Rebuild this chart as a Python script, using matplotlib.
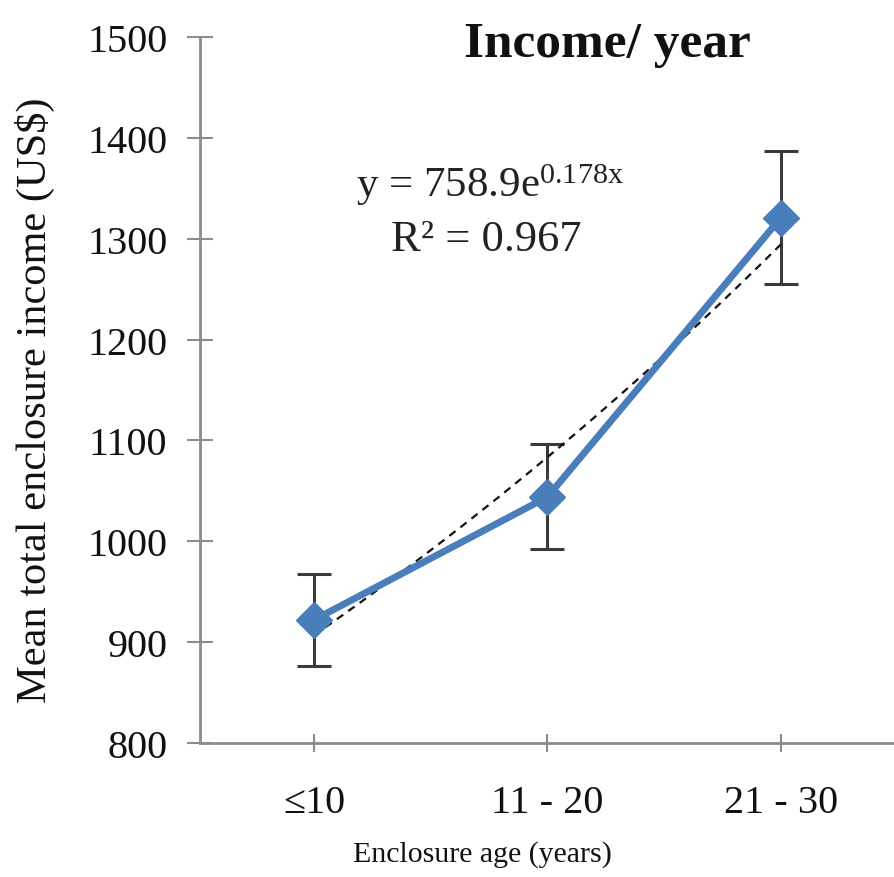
import numpy as np
import matplotlib
matplotlib.use("Agg")
import matplotlib.pyplot as plt

# Data
categories = ["\u226410", "11 - 20", "21 - 30"]
mean_income = [922, 1044, 1321]
error = [46, 52, 66]
fit_a = 758.9
fit_b = 0.178
r_squared = 0.967
y_ticks = [800, 900, 1000, 1100, 1200, 1300, 1400, 1500]

plt.rcParams["font.family"] = ["Liberation Serif", "DejaVu Serif"]
plt.rcParams["mathtext.fontset"] = "custom"
plt.rcParams["mathtext.rm"] = "Liberation Serif"
plt.rcParams["mathtext.it"] = "Liberation Serif:italic"

W, H = 894, 878
fig = plt.figure(figsize=(W / 100, H / 100), dpi=100)
fig.patch.set_facecolor("white")

def px(x0, y0, x1, y1):
    return [x0 / W, 1 - y1 / H, (x1 - x0) / W, (y1 - y0) / H]

ax = fig.add_axes(px(200, 38, 894, 744))
x = np.arange(1, len(categories) + 1)

# Exponential trend line
xt = np.linspace(1, 3, 200)
ax.plot(xt, fit_a * np.exp(fit_b * xt), color="#111111", lw=1.6,
        dashes=(3.5, 2.8), zorder=3)

# Error bars
ax.errorbar(x, mean_income, yerr=error, fmt="none", ecolor="#3a3a3a",
            elinewidth=2.2, capsize=12, capthick=2.2, zorder=2)

# Mean line with diamond markers
ax.plot(x, mean_income, color="#4a7ebb", lw=5, marker="D", markersize=18,
        markerfacecolor="#4a7ebb", markeredgecolor="#4a7ebb",
        solid_joinstyle="round", zorder=4)

ax.set_xlim(0.512, 3.484)
ax.set_ylim(800, 1500)
ax.set_yticks(y_ticks)
ax.set_xticks(x)
ax.set_xticklabels(categories)

for side in ("top", "right"):
    ax.spines[side].set_visible(False)
for side in ("left", "bottom"):
    ax.spines[side].set_color("#8c8c8c")
    ax.spines[side].set_linewidth(2)

ax.tick_params(axis="y", direction="inout", length=19, width=1.5,
               color="#8c8c8c", labelsize=29, pad=14, labelcolor="#111111")
ax.tick_params(axis="x", direction="inout", length=13, width=1.5,
               color="#8c8c8c", labelsize=29, pad=23, labelcolor="#111111")

# Titles and labels
fig.text(607 / W, 1 - 57 / H, "Income/ year", ha="center", va="baseline",
         fontsize=37, fontweight="bold", color="#111111")
fig.text(482 / W, 1 - 855 / H, "Enclosure age (years)", ha="center",
         va="center", fontsize=21.5, color="#111111")
fig.text(35 / W, 1 - 400 / H, "Mean total enclosure income (US$)",
         ha="center", va="center", rotation=90, fontsize=30.5, color="#111111")

# Trend equation
fig.text(490 / W, 1 - 185 / H,
         "y = %.1fe$^{\\mathrm{%.3fx}}$" % (fit_a, fit_b),
         ha="center", va="center", fontsize=31, color="#222222")
fig.text(486 / W, 1 - 240 / H, "R\u00b2 = %.3f" % r_squared,
         ha="center", va="center", fontsize=32, color="#222222")

fig.savefig("out.png", dpi=100, facecolor="white")
